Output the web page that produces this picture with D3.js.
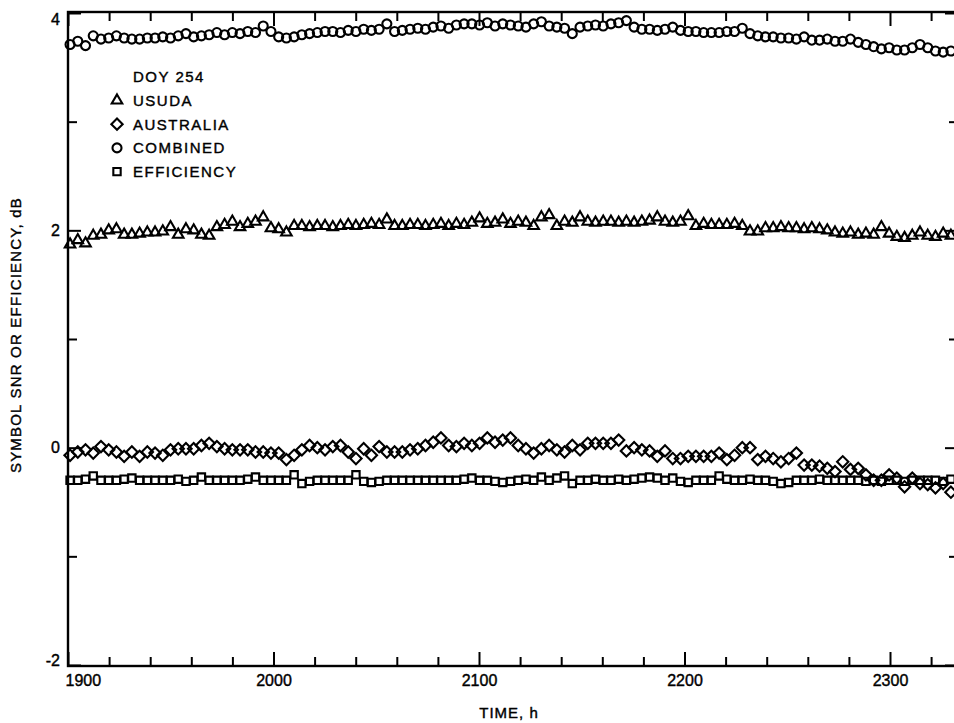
<!DOCTYPE html>
<html>
<head>
<meta charset="utf-8">
<script src="https://cdn.jsdelivr.net/npm/d3@7"></script>
<style>
  html, body { margin: 0; padding: 0; background: #fff; }
  svg { display: block; font-family: "Liberation Sans", Arial, Helvetica, sans-serif; }
  svg text { stroke: #000; stroke-width: 0.4px; paint-order: stroke; }
</style>
</head>
<body>
<svg id="chart" width="954" height="723"></svg>
<script>
// ---- data -------------------------------------------------------------
const xTickHours  = [19, 20, 21, 22, 23];
const xTickLabels = ["1900", "2000", "2100", "2200", "2300"];
const yTickValues = [-2, 0, 2, 4];
const yTickLabels = ["-2", "0", "2", "4"];

const legendTitle = "DOY 254";
const seriesNames = ["USUDA", "AUSTRALIA", "COMBINED", "EFFICIENCY"];

// sampling instants (hours of day)
const startHour = 19.01;
const stepHours = 0.0376;

// symbol SNR, dB
const usuda = [
  1.87, 1.91, 1.88, 1.95, 1.96, 2.00, 2.01, 1.96, 1.96, 1.97,
  1.98, 1.98, 1.99, 2.03, 1.96, 2.01, 2.00, 1.96, 1.95, 2.03,
  2.05, 2.08, 2.03, 2.06, 2.08, 2.12, 2.02, 2.01, 1.98, 2.04,
  2.04, 2.03, 2.04, 2.04, 2.03, 2.04, 2.05, 2.04, 2.05, 2.06,
  2.05, 2.10, 2.04, 2.04, 2.05, 2.05, 2.04, 2.05, 2.06, 2.04,
  2.06, 2.05, 2.07, 2.11, 2.06, 2.07, 2.10, 2.06, 2.08, 2.07,
  2.04, 2.12, 2.14, 2.04, 2.08, 2.07, 2.12, 2.08, 2.07, 2.08,
  2.08, 2.07, 2.08, 2.07, 2.08, 2.09, 2.12, 2.08, 2.07, 2.08,
  2.13, 2.04, 2.06, 2.05, 2.05, 2.05, 2.06, 2.04, 1.99, 1.99,
  2.02, 2.02, 2.03, 2.02, 2.02, 2.01, 2.02, 2.01, 2.00, 1.98,
  1.97, 1.98, 1.96, 1.97, 1.96, 2.03, 1.97, 1.94, 1.93, 1.95,
  1.98, 1.95, 1.94, 1.97, 1.95
];

const australia = [
  -0.07, -0.04, -0.02, -0.05, 0.01, -0.02, -0.04, -0.08, -0.04, -0.08,
  -0.04, -0.05, -0.07, -0.02, -0.01, -0.01, -0.01, 0.02, 0.04, 0.01,
  -0.01, -0.02, -0.02, -0.02, -0.04, -0.04, -0.05, -0.05, -0.11, -0.07,
  -0.02, 0.02, 0.00, -0.02, 0.01, 0.02, -0.04, -0.10, -0.01, -0.07,
  0.01, -0.04, -0.04, -0.04, -0.02, -0.01, 0.02, 0.05, 0.09, 0.02,
  0.01, 0.04, 0.02, 0.04, 0.09, 0.05, 0.07, 0.09, 0.02, -0.01,
  -0.05, -0.01, 0.02, -0.02, -0.04, 0.02, -0.02, 0.04, 0.04, 0.04,
  0.04, 0.07, -0.03, 0.00, -0.02, -0.03, -0.08, -0.03, -0.10, -0.10,
  -0.08, -0.08, -0.08, -0.08, -0.05, -0.11, -0.07, 0.00, 0.00, -0.11,
  -0.08, -0.10, -0.13, -0.10, -0.05, -0.16, -0.16, -0.17, -0.19, -0.22,
  -0.13, -0.20, -0.19, -0.25, -0.30, -0.30, -0.25, -0.28, -0.36, -0.28,
  -0.33, -0.34, -0.37, -0.33, -0.41
];

const combined = [
  3.71, 3.74, 3.70, 3.79, 3.76, 3.77, 3.79, 3.77, 3.76, 3.76,
  3.77, 3.77, 3.78, 3.77, 3.79, 3.81, 3.78, 3.79, 3.80, 3.82,
  3.80, 3.82, 3.81, 3.83, 3.82, 3.88, 3.83, 3.78, 3.77, 3.78,
  3.80, 3.81, 3.82, 3.83, 3.83, 3.82, 3.84, 3.83, 3.85, 3.84,
  3.85, 3.90, 3.83, 3.84, 3.85, 3.86, 3.85, 3.87, 3.88, 3.86,
  3.89, 3.90, 3.90, 3.89, 3.91, 3.88, 3.90, 3.89, 3.88, 3.87,
  3.90, 3.92, 3.88, 3.87, 3.86, 3.81, 3.87, 3.88, 3.89, 3.88,
  3.90, 3.91, 3.93, 3.87, 3.85, 3.85, 3.84, 3.85, 3.87, 3.84,
  3.83, 3.83, 3.82, 3.82, 3.82, 3.83, 3.83, 3.86, 3.81, 3.79,
  3.78, 3.78, 3.77, 3.77, 3.76, 3.78, 3.75, 3.75, 3.76, 3.74,
  3.74, 3.76, 3.73, 3.71, 3.69, 3.67, 3.68, 3.66, 3.66, 3.68,
  3.71, 3.68, 3.65, 3.64, 3.65
];

// efficiency, dB
const efficiency = [
  -0.30, -0.30, -0.29, -0.26, -0.30, -0.30, -0.30, -0.29, -0.28, -0.30,
  -0.30, -0.30, -0.30, -0.30, -0.29, -0.31, -0.30, -0.27, -0.30, -0.30,
  -0.30, -0.30, -0.30, -0.29, -0.27, -0.30, -0.30, -0.30, -0.30, -0.25,
  -0.33, -0.31, -0.30, -0.30, -0.30, -0.30, -0.30, -0.25, -0.31, -0.32,
  -0.31, -0.30, -0.30, -0.30, -0.30, -0.30, -0.30, -0.30, -0.30, -0.30,
  -0.30, -0.29, -0.28, -0.30, -0.30, -0.31, -0.32, -0.31, -0.30, -0.29,
  -0.30, -0.27, -0.30, -0.28, -0.26, -0.33, -0.30, -0.30, -0.29, -0.30,
  -0.30, -0.29, -0.30, -0.29, -0.28, -0.27, -0.28, -0.30, -0.28, -0.31,
  -0.32, -0.30, -0.30, -0.30, -0.26, -0.29, -0.30, -0.30, -0.29, -0.30,
  -0.30, -0.31, -0.33, -0.32, -0.30, -0.30, -0.30, -0.29, -0.30, -0.30,
  -0.30, -0.30, -0.30, -0.31, -0.30, -0.31, -0.30, -0.30, -0.31, -0.30,
  -0.30, -0.30, -0.30, -0.31, -0.29
];

// ---- layout -----------------------------------------------------------
const ink = "#000";
const plot = { left: 68, right: 958, top: 12, bottom: 666 };

const svg = d3.select("#chart");
svg.append("rect").attr("width", 954).attr("height", 723).attr("fill", "#fff");

const x = d3.scaleLinear().domain([19, 23]).range([68, 890]);
const y = d3.scaleLinear().domain([-2, 4]).range([665, 13]);

const times = usuda.map((_, i) => startHour + i * stepHours);

const minorHours = d3.range(96, 117).filter(k => k % 5 !== 0).map(k => k / 5);
const minorY = [-1, 1, 3];

function styleAxis(g) {
  g.select(".domain").remove();
  g.attr("font-family", null).attr("font-size", 16).attr("color", ink);
  g.selectAll(".tick line").attr("stroke-width", 2);
  g.selectAll(".tick text").attr("fill", ink);
}

// bottom axis: labelled hours + minor ticks
const gBottom = svg.append("g")
  .attr("transform", `translate(0,${plot.bottom})`)
  .call(d3.axisBottom(x)
    .tickValues(xTickHours)
    .tickFormat(d => xTickLabels[xTickHours.indexOf(d)])
    .tickSize(-14).tickSizeOuter(0).tickPadding(9))
  .call(styleAxis);
gBottom.selectAll(".tick text").filter(d => d === xTickHours[0])
  .attr("text-anchor", "start").attr("x", -3);

svg.append("g")
  .attr("transform", `translate(0,${plot.bottom})`)
  .call(d3.axisBottom(x).tickValues(minorHours).tickFormat("").tickSize(-9).tickSizeOuter(0))
  .call(styleAxis);

// top axis (ticks only)
svg.append("g")
  .attr("transform", `translate(0,${plot.top})`)
  .call(d3.axisTop(x).tickValues(xTickHours).tickFormat("").tickSize(-14).tickSizeOuter(0))
  .call(styleAxis);
svg.append("g")
  .attr("transform", `translate(0,${plot.top})`)
  .call(d3.axisTop(x).tickValues(minorHours).tickFormat("").tickSize(-9).tickSizeOuter(0))
  .call(styleAxis);

// left axis
const gLeft = svg.append("g")
  .attr("transform", `translate(${plot.left},0)`)
  .call(d3.axisLeft(y)
    .tickValues(yTickValues)
    .tickFormat(d => yTickLabels[yTickValues.indexOf(d)])
    .tickSize(-13).tickSizeOuter(0).tickPadding(8))
  .call(styleAxis);
gLeft.selectAll(".tick text").filter(d => d === 4).attr("y", 6);
gLeft.selectAll(".tick text").filter(d => d === -2).attr("y", -5);

svg.append("g")
  .attr("transform", `translate(${plot.left},0)`)
  .call(d3.axisLeft(y).tickValues(minorY).tickFormat("").tickSize(-9).tickSizeOuter(0))
  .call(styleAxis);

// right axis (ticks only)
svg.append("g")
  .attr("transform", `translate(${plot.right},0)`)
  .call(d3.axisRight(y).tickValues(yTickValues).tickFormat("").tickSize(-13).tickSizeOuter(0))
  .call(styleAxis);
svg.append("g")
  .attr("transform", `translate(${plot.right},0)`)
  .call(d3.axisRight(y).tickValues(minorY).tickFormat("").tickSize(-9).tickSizeOuter(0))
  .call(styleAxis);

// frame
svg.append("rect")
  .attr("x", plot.left).attr("y", plot.top)
  .attr("width", plot.right - plot.left).attr("height", plot.bottom - plot.top)
  .attr("fill", "none").attr("stroke", ink).attr("stroke-width", 2.4);

// ---- markers ----------------------------------------------------------
const markers = {
  USUDA:      { path: d3.symbol(d3.symbolTriangle, 48)(), rotate: 0 },
  AUSTRALIA:  { path: d3.symbol(d3.symbolSquare, 64)(), rotate: 45 },
  COMBINED:   { path: d3.symbol(d3.symbolCircle, 64)(), rotate: 0 },
  EFFICIENCY: { path: d3.symbol(d3.symbolSquare, 54)(), rotate: 0 }
};

const seriesValues = [usuda, australia, combined, efficiency];

seriesNames.forEach((name, s) => {
  const m = markers[name];
  svg.append("g")
    .attr("fill", "none").attr("stroke", ink).attr("stroke-width", 2.1)
    .selectAll("path")
    .data(seriesValues[s])
    .join("path")
    .attr("d", m.path)
    .attr("transform", (d, i) => `translate(${x(times[i])},${y(d)}) rotate(${m.rotate})`);
});

// ---- legend -----------------------------------------------------------
const legend = svg.append("g").attr("fill", ink).attr("font-size", 15).attr("letter-spacing", 1.5);
legend.append("text").attr("x", 133).attr("y", 82).text(legendTitle);
seriesNames.forEach((name, s) => {
  const base = 106 + s * 23.7;
  const m = markers[name];
  legend.append("path")
    .attr("d", m.path)
    .attr("transform", `translate(117,${base - 5.5}) rotate(${m.rotate})`)
    .attr("fill", "none").attr("stroke", ink).attr("stroke-width", 2.1);
  legend.append("text").attr("x", 133).attr("y", base).text(name);
});

// ---- axis titles --------------------------------------------------------
svg.append("text")
  .attr("x", 509).attr("y", 718)
  .attr("text-anchor", "middle").attr("font-size", 15).attr("letter-spacing", 1)
  .attr("fill", ink).text("TIME, h");

svg.append("text")
  .attr("transform", "translate(21,335) rotate(-90)")
  .attr("text-anchor", "middle").attr("font-size", 15).attr("letter-spacing", 1.2)
  .attr("fill", ink).text("SYMBOL SNR OR EFFICIENCY, dB");
</script>
</body>
</html>
